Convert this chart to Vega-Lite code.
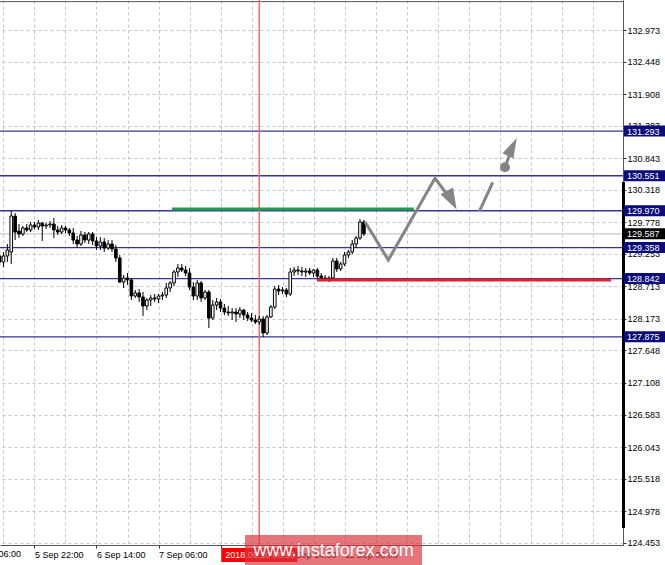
{
  "$schema": "https://vega.github.io/schema/vega-lite/v6.json",
  "width": 623,
  "height": 545,
  "padding": {"left": 0, "top": 0, "right": 42, "bottom": 20},
  "autosize": {"type": "none"},
  "background": "white",
  "config": {"view": {"stroke": null}, "font": "Liberation Sans", "scale": {"continuousPadding": 0}},
  "datasets": {
    "bars": [
      {"t":-9,"o":129.218,"h":129.317,"l":129.051,"c":129.118},
      {"t":-8,"o":129.118,"h":129.284,"l":129.035,"c":129.218},
      {"t":-7,"o":129.218,"h":129.417,"l":129.118,"c":129.317},
      {"t":-6,"o":129.284,"h":129.965,"l":129.085,"c":129.882},
      {"t":-5,"o":129.882,"h":129.932,"l":129.483,"c":129.616},
      {"t":-4,"o":129.633,"h":129.749,"l":129.517,"c":129.583},
      {"t":-3,"o":129.583,"h":129.716,"l":129.550,"c":129.683},
      {"t":-2,"o":129.683,"h":129.749,"l":129.616,"c":129.650},
      {"t":-1,"o":129.650,"h":129.783,"l":129.616,"c":129.733},
      {"t":0,"o":129.733,"h":129.783,"l":129.666,"c":129.699},
      {"t":1,"o":129.699,"h":129.816,"l":129.650,"c":129.766},
      {"t":2,"o":129.766,"h":129.783,"l":129.467,"c":129.716},
      {"t":3,"o":129.716,"h":129.766,"l":129.666,"c":129.733},
      {"t":4,"o":129.733,"h":129.799,"l":129.683,"c":129.749},
      {"t":5,"o":129.749,"h":129.849,"l":129.517,"c":129.650},
      {"t":6,"o":129.650,"h":129.716,"l":129.567,"c":129.616},
      {"t":7,"o":129.616,"h":129.733,"l":129.583,"c":129.683},
      {"t":8,"o":129.683,"h":129.716,"l":129.600,"c":129.650},
      {"t":9,"o":129.650,"h":129.683,"l":129.550,"c":129.600},
      {"t":10,"o":129.600,"h":129.683,"l":129.417,"c":129.483},
      {"t":11,"o":129.483,"h":129.550,"l":129.351,"c":129.417},
      {"t":12,"o":129.417,"h":129.633,"l":129.384,"c":129.567},
      {"t":13,"o":129.567,"h":129.616,"l":129.434,"c":129.483},
      {"t":14,"o":129.483,"h":129.616,"l":129.417,"c":129.583},
      {"t":15,"o":129.583,"h":129.616,"l":129.400,"c":129.467},
      {"t":16,"o":129.467,"h":129.533,"l":129.317,"c":129.384},
      {"t":17,"o":129.384,"h":129.533,"l":129.317,"c":129.450},
      {"t":18,"o":129.450,"h":129.517,"l":129.284,"c":129.351},
      {"t":19,"o":129.351,"h":129.483,"l":129.317,"c":129.417},
      {"t":20,"o":129.417,"h":129.483,"l":129.284,"c":129.334},
      {"t":21,"o":129.334,"h":129.400,"l":129.118,"c":129.184},
      {"t":22,"o":129.184,"h":129.234,"l":128.769,"c":128.785},
      {"t":23,"o":128.785,"h":128.902,"l":128.686,"c":128.852},
      {"t":24,"o":128.852,"h":128.935,"l":128.736,"c":128.819},
      {"t":25,"o":128.819,"h":128.852,"l":128.486,"c":128.553},
      {"t":26,"o":128.553,"h":128.653,"l":128.520,"c":128.603},
      {"t":27,"o":128.603,"h":128.669,"l":128.453,"c":128.536},
      {"t":28,"o":128.536,"h":128.619,"l":128.221,"c":128.387},
      {"t":29,"o":128.387,"h":128.520,"l":128.320,"c":128.486},
      {"t":30,"o":128.486,"h":128.569,"l":128.387,"c":128.520},
      {"t":31,"o":128.520,"h":128.586,"l":128.453,"c":128.503},
      {"t":32,"o":128.503,"h":128.586,"l":128.437,"c":128.553},
      {"t":33,"o":128.553,"h":128.619,"l":128.486,"c":128.569},
      {"t":34,"o":128.569,"h":128.769,"l":128.520,"c":128.686},
      {"t":35,"o":128.686,"h":128.802,"l":128.619,"c":128.769},
      {"t":36,"o":128.769,"h":128.985,"l":128.719,"c":128.952},
      {"t":37,"o":128.952,"h":129.085,"l":128.869,"c":129.018},
      {"t":38,"o":129.018,"h":129.085,"l":128.952,"c":128.985},
      {"t":39,"o":128.985,"h":129.051,"l":128.885,"c":128.935},
      {"t":40,"o":128.935,"h":129.018,"l":128.653,"c":128.702},
      {"t":41,"o":128.702,"h":128.785,"l":128.486,"c":128.553},
      {"t":42,"o":128.553,"h":128.819,"l":128.486,"c":128.769},
      {"t":43,"o":128.769,"h":128.802,"l":128.453,"c":128.520},
      {"t":44,"o":128.520,"h":128.653,"l":128.486,"c":128.619},
      {"t":45,"o":128.619,"h":128.653,"l":128.021,"c":128.187},
      {"t":46,"o":128.187,"h":128.486,"l":128.154,"c":128.403},
      {"t":47,"o":128.403,"h":128.520,"l":128.320,"c":128.453},
      {"t":48,"o":128.453,"h":128.503,"l":128.287,"c":128.353},
      {"t":49,"o":128.353,"h":128.420,"l":128.237,"c":128.287},
      {"t":50,"o":128.287,"h":128.387,"l":128.221,"c":128.270},
      {"t":51,"o":128.270,"h":128.353,"l":128.154,"c":128.287},
      {"t":52,"o":128.287,"h":128.353,"l":128.121,"c":128.254},
      {"t":53,"o":128.254,"h":128.370,"l":128.187,"c":128.320},
      {"t":54,"o":128.320,"h":128.337,"l":128.154,"c":128.237},
      {"t":55,"o":128.237,"h":128.287,"l":128.137,"c":128.187},
      {"t":56,"o":128.187,"h":128.270,"l":128.121,"c":128.154},
      {"t":57,"o":128.154,"h":128.237,"l":128.088,"c":128.121},
      {"t":58,"o":128.121,"h":128.221,"l":128.071,"c":128.171},
      {"t":59,"o":128.171,"h":128.221,"l":127.872,"c":127.938},
      {"t":60,"o":127.938,"h":128.237,"l":127.905,"c":128.204},
      {"t":61,"o":128.204,"h":128.403,"l":128.187,"c":128.370},
      {"t":62,"o":128.370,"h":128.719,"l":128.337,"c":128.669},
      {"t":63,"o":128.669,"h":128.736,"l":128.569,"c":128.636},
      {"t":64,"o":128.636,"h":128.702,"l":128.586,"c":128.653},
      {"t":65,"o":128.653,"h":128.686,"l":128.536,"c":128.586},
      {"t":66,"o":128.586,"h":129.018,"l":128.553,"c":128.952},
      {"t":67,"o":128.952,"h":129.035,"l":128.885,"c":128.985},
      {"t":68,"o":128.985,"h":129.051,"l":128.902,"c":128.968},
      {"t":69,"o":128.968,"h":129.035,"l":128.885,"c":128.952},
      {"t":70,"o":128.952,"h":129.018,"l":128.869,"c":128.968},
      {"t":71,"o":128.968,"h":129.018,"l":128.902,"c":128.935},
      {"t":72,"o":128.935,"h":129.002,"l":128.869,"c":128.985},
      {"t":73,"o":128.985,"h":129.018,"l":128.819,"c":128.885},
      {"t":74,"o":128.885,"h":128.935,"l":128.802,"c":128.852},
      {"t":75,"o":128.852,"h":128.902,"l":128.802,"c":128.835},
      {"t":76,"o":128.835,"h":128.885,"l":128.785,"c":128.852},
      {"t":77,"o":128.852,"h":129.184,"l":128.819,"c":129.135},
      {"t":78,"o":129.135,"h":129.184,"l":128.952,"c":129.002},
      {"t":79,"o":129.002,"h":129.118,"l":128.968,"c":129.085},
      {"t":80,"o":129.085,"h":129.284,"l":129.051,"c":129.234},
      {"t":81,"o":129.234,"h":129.317,"l":129.184,"c":129.284},
      {"t":82,"o":129.284,"h":129.483,"l":129.251,"c":129.417},
      {"t":83,"o":129.417,"h":129.550,"l":129.351,"c":129.517},
      {"t":84,"o":129.517,"h":129.832,"l":129.483,"c":129.783},
      {"t":85,"o":129.783,"h":129.816,"l":129.550,"c":129.587}
    ],
    "levels": [
      {"p":131.293,"label":"131.293"},
      {"p":130.551,"label":"130.551"},
      {"p":129.970,"label":"129.970"},
      {"p":129.358,"label":"129.358"},
      {"p":128.842,"label":"128.842"},
      {"p":127.875,"label":"127.875"}
    ],
    "price": [{"p":129.587,"label":"129.587"}],
    "vline": [{"t":58,"label":"2018.09.10 08:00"}],
    "firstlabel": [{"t":-16,"label":"5 Sep 06:00"}],
    "green": [{"t1":35.5,"t2":97.9,"p":130.0}],
    "red": [{"t1":72.9,"t2":148.8,"p":128.819}],
    "path": [
      {"seg":"a","k":1,"t":85.29,"p":129.788},
      {"seg":"a","k":2,"t":91.3,"p":129.151},
      {"seg":"a","k":3,"t":103.35,"p":130.509},
      {"seg":"a","k":4,"t":107.3,"p":130.17},
      {"seg":"b","k":1,"t":114.77,"p":129.954},
      {"seg":"b","k":2,"t":118.25,"p":130.443},
      {"seg":"c","k":1,"t":121.42,"p":130.692},
      {"seg":"c","k":2,"t":123.1,"p":130.99}
    ],
    "head1": [{"t":107.66,"p":130.145}],
    "head2": [{"t":123.32,"p":131.029}],
    "dot": [{"t":121.42,"p":130.692}],
    "mark": [{"text":"www.instaforex.com"}]
  },
  "layer": [
    {
      "data": {"name": "bars"},
      "mark": {"type": "rule", "color": "black", "strokeWidth": 1, "opacity": 0},
      "encoding": {
        "x": {
          "field": "t", "type": "quantitative",
          "scale": {"domain": [-8.903, 151.87], "nice": false, "zero": false, "padding": 0},
          "axis": {
            "orient": "bottom",
            "values": [-8,0,8,16,24,32,40,48,56,64,72,80,88,96,104,112,120,128,136,144],
            "tickCount": 200,
            "labelExpr": "datum.value == 0 ? '5 Sep 22:00' : datum.value == 16 ? '6 Sep 14:00' : datum.value == 32 ? '7 Sep 06:00' : datum.value == 48 ? '7 Sep 22:00' : datum.value == 64 ? '10 Sep 14:00' : datum.value == 80 ? '11 Sep 06:00' : ''",
            "title": null,
            "grid": true, "gridColor": "#c4c4c4", "gridDash": [3, 3], "gridWidth": 1,
            "labelAlign": "left", "labelPadding": 2, "tickSize": 3,
            "tickColor": {"condition": {"test": "datum.value % 16 == 0 && datum.value <= 80", "value": "#333"}, "value": "transparent"},
            "labelFontSize": 9, "labelColor": "#000", "labelFont": "Liberation Sans",
            "labelOverlap": false, "labelBound": false, "labelFlush": false,
            "domainColor": "#555"
          }
        },
        "y": {
          "field": "l", "type": "quantitative",
          "scale": {"domain": [124.415, 133.472], "nice": false, "zero": false, "padding": 0},
          "axis": {
            "orient": "right",
            "values": [132.973,132.448,131.908,131.383,130.843,130.318,129.778,129.253,128.713,128.173,127.648,127.108,126.583,126.043,125.518,124.978,124.453],
            "tickCount": 200,
            "format": ".3f",
            "title": null,
            "grid": true, "gridColor": "#c4c4c4", "gridDash": [3, 3], "gridWidth": 1,
            "tickSize": 3, "tickColor": "#333", "labelPadding": 1,
            "labelFontSize": 9, "labelColor": "#000", "labelFont": "Liberation Sans",
            "labelOverlap": false, "labelBound": false, "labelFlush": false,
            "domainColor": "#555"
          }
        },
        "y2": {"field": "h"}
      }
    },
    {
      "data": {"name": "levels"},
      "mark": {"type": "rule", "color": "#34349c", "strokeWidth": 1.3},
      "encoding": {
        "y": {"field": "p", "type": "quantitative", "scale": {"domain": [124.415, 133.472], "nice": false, "zero": false, "padding": 0}}
      }
    },
    {
      "data": {"name": "price"},
      "mark": {"type": "rule", "color": "#c8c8c8", "strokeWidth": 1.2},
      "encoding": {
        "y": {"field": "p", "type": "quantitative", "scale": {"domain": [124.415, 133.472], "nice": false, "zero": false, "padding": 0}}
      }
    },
    {
      "data": {"name": "price"},
      "mark": {"type": "rule", "color": "#555", "strokeWidth": 1},
      "encoding": {
        "y": {"datum": 133.445, "type": "quantitative", "scale": {"domain": [124.415, 133.472], "nice": false, "zero": false, "padding": 0}}
      }
    },
    {
      "data": {"name": "vline"},
      "mark": {"type": "rule", "color": "#f36b6b", "strokeWidth": 1.5},
      "encoding": {
        "x": {"field": "t", "type": "quantitative", "scale": {"domain": [-8.903, 151.87], "nice": false, "zero": false, "padding": 0}}
      }
    },
    {
      "data": {"name": "bars"},
      "mark": {"type": "rule", "color": "black", "strokeWidth": 1},
      "encoding": {
        "x": {"field": "t", "type": "quantitative", "scale": {"domain": [-8.903, 151.87], "nice": false, "zero": false, "padding": 0}},
        "y": {"field": "l", "type": "quantitative", "scale": {"domain": [124.415, 133.472], "nice": false, "zero": false, "padding": 0}},
        "y2": {"field": "h"}
      }
    },
    {
      "data": {"name": "bars"},
      "mark": {"type": "bar", "size": 2.6, "stroke": "black", "strokeWidth": 1},
      "encoding": {
        "x": {"field": "t", "type": "quantitative", "scale": {"domain": [-8.903, 151.87], "nice": false, "zero": false, "padding": 0}},
        "y": {"field": "o", "type": "quantitative", "scale": {"domain": [124.415, 133.472], "nice": false, "zero": false, "padding": 0}},
        "y2": {"field": "c"},
        "fill": {"condition": {"test": "datum.c < datum.o", "value": "black"}, "value": "white"}
      }
    },
    {
      "data": {"name": "green"},
      "mark": {"type": "rule", "color": "#1f9e48", "strokeWidth": 3},
      "encoding": {
        "x": {"field": "t1", "type": "quantitative", "scale": {"domain": [-8.903, 151.87], "nice": false, "zero": false, "padding": 0}},
        "x2": {"field": "t2"},
        "y": {"field": "p", "type": "quantitative", "scale": {"domain": [124.415, 133.472], "nice": false, "zero": false, "padding": 0}}
      }
    },
    {
      "data": {"name": "red"},
      "mark": {"type": "rule", "color": "#e41f2f", "strokeWidth": 3},
      "encoding": {
        "x": {"field": "t1", "type": "quantitative", "scale": {"domain": [-8.903, 151.87], "nice": false, "zero": false, "padding": 0}},
        "x2": {"field": "t2"},
        "y": {"field": "p", "type": "quantitative", "scale": {"domain": [124.415, 133.472], "nice": false, "zero": false, "padding": 0}}
      }
    },
    {
      "data": {"name": "path"},
      "mark": {"type": "line", "color": "#858585", "strokeWidth": 3, "strokeJoin": "miter"},
      "encoding": {
        "x": {"field": "t", "type": "quantitative", "scale": {"domain": [-8.903, 151.87], "nice": false, "zero": false, "padding": 0}},
        "y": {"field": "p", "type": "quantitative", "scale": {"domain": [124.415, 133.472], "nice": false, "zero": false, "padding": 0}},
        "detail": {"field": "seg"},
        "order": {"field": "k"}
      }
    },
    {
      "data": {"name": "head1"},
      "mark": {"type": "point", "filled": true, "color": "#858585", "opacity": 1, "size": 440, "angle": 152, "shape": "M0,-1L0.68,1L-0.68,1Z"},
      "encoding": {
        "x": {"field": "t", "type": "quantitative", "scale": {"domain": [-8.903, 151.87], "nice": false, "zero": false, "padding": 0}},
        "y": {"field": "p", "type": "quantitative", "scale": {"domain": [124.415, 133.472], "nice": false, "zero": false, "padding": 0}}
      }
    },
    {
      "data": {"name": "head2"},
      "mark": {"type": "point", "filled": true, "color": "#858585", "opacity": 1, "size": 400, "angle": 26, "shape": "M0,-1L0.6,1L-0.6,1Z"},
      "encoding": {
        "x": {"field": "t", "type": "quantitative", "scale": {"domain": [-8.903, 151.87], "nice": false, "zero": false, "padding": 0}},
        "y": {"field": "p", "type": "quantitative", "scale": {"domain": [124.415, 133.472], "nice": false, "zero": false, "padding": 0}}
      }
    },
    {
      "data": {"name": "dot"},
      "mark": {"type": "point", "filled": true, "color": "#858585", "opacity": 1, "size": 100, "shape": "circle"},
      "encoding": {
        "x": {"field": "t", "type": "quantitative", "scale": {"domain": [-8.903, 151.87], "nice": false, "zero": false, "padding": 0}},
        "y": {"field": "p", "type": "quantitative", "scale": {"domain": [124.415, 133.472], "nice": false, "zero": false, "padding": 0}}
      }
    },
    {
      "data": {"name": "price"},
      "mark": {"type": "rule", "color": "black", "strokeWidth": 3},
      "encoding": {
        "x": {"datum": 152.0, "type": "quantitative", "scale": {"domain": [-8.903, 151.87], "nice": false, "zero": false, "padding": 0}},
        "y": {"datum": 130.448, "type": "quantitative", "scale": {"domain": [124.415, 133.472], "nice": false, "zero": false, "padding": 0}},
        "y2": {"datum": 124.698}
      }
    },
    {
      "data": {"name": "levels"},
      "mark": {"type": "point", "filled": true, "color": "#0b0b7a", "opacity": 1, "size": 1764, "strokeWidth": 0, "shape": "M-1,-0.262L1,-0.262L1,0.262L-1,0.262Z"},
      "encoding": {
        "x": {"datum": 157.55, "type": "quantitative", "scale": {"domain": [-8.903, 151.87], "nice": false, "zero": false, "padding": 0}},
        "y": {"field": "p", "type": "quantitative", "scale": {"domain": [124.415, 133.472], "nice": false, "zero": false, "padding": 0}}
      }
    },
    {
      "data": {"name": "price"},
      "mark": {"type": "point", "filled": true, "color": "#000000", "opacity": 1, "size": 1764, "strokeWidth": 0, "shape": "M-1,-0.262L1,-0.262L1,0.262L-1,0.262Z"},
      "encoding": {
        "x": {"datum": 157.55, "type": "quantitative", "scale": {"domain": [-8.903, 151.87], "nice": false, "zero": false, "padding": 0}},
        "y": {"field": "p", "type": "quantitative", "scale": {"domain": [124.415, 133.472], "nice": false, "zero": false, "padding": 0}}
      }
    },
    {
      "data": {"name": "levels"},
      "mark": {"type": "text", "color": "white", "fontSize": 9, "font": "Liberation Sans", "align": "left", "baseline": "middle", "dy": 0.5},
      "encoding": {
        "x": {"datum": 152.9, "type": "quantitative", "scale": {"domain": [-8.903, 151.87], "nice": false, "zero": false, "padding": 0}},
        "y": {"field": "p", "type": "quantitative", "scale": {"domain": [124.415, 133.472], "nice": false, "zero": false, "padding": 0}},
        "text": {"field": "label"}
      }
    },
    {
      "data": {"name": "price"},
      "mark": {"type": "text", "color": "white", "fontSize": 9, "font": "Liberation Sans", "align": "left", "baseline": "middle", "dy": 0.5},
      "encoding": {
        "x": {"datum": 152.9, "type": "quantitative", "scale": {"domain": [-8.903, 151.87], "nice": false, "zero": false, "padding": 0}},
        "y": {"field": "p", "type": "quantitative", "scale": {"domain": [124.415, 133.472], "nice": false, "zero": false, "padding": 0}},
        "text": {"field": "label"}
      }
    },
    {
      "data": {"name": "firstlabel"},
      "mark": {"type": "text", "color": "black", "fontSize": 9, "font": "Liberation Sans", "align": "left", "baseline": "top"},
      "encoding": {
        "x": {"field": "t", "type": "quantitative", "scale": {"domain": [-8.903, 151.87], "nice": false, "zero": false, "padding": 0}},
        "y": {"datum": 124.332, "type": "quantitative", "scale": {"domain": [124.415, 133.472], "nice": false, "zero": false, "padding": 0}},
        "text": {"field": "label"}
      }
    },
    {
      "data": {"name": "vline"},
      "mark": {"type": "point", "filled": true, "color": "#ff0000", "opacity": 1, "size": 5776, "strokeWidth": 0, "shape": "M-1,-0.184L1,-0.184L1,0.184L-1,0.184Z"},
      "encoding": {
        "x": {"field": "t", "type": "quantitative", "scale": {"domain": [-8.903, 151.87], "nice": false, "zero": false, "padding": 0}},
        "y": {"datum": 124.249, "type": "quantitative", "scale": {"domain": [124.415, 133.472], "nice": false, "zero": false, "padding": 0}}
      }
    },
    {
      "data": {"name": "vline"},
      "mark": {"type": "text", "color": "white", "fontSize": 9, "font": "Liberation Sans", "align": "left", "baseline": "middle", "dx": -34},
      "encoding": {
        "x": {"field": "t", "type": "quantitative", "scale": {"domain": [-8.903, 151.87], "nice": false, "zero": false, "padding": 0}},
        "y": {"datum": 124.249, "type": "quantitative", "scale": {"domain": [124.415, 133.472], "nice": false, "zero": false, "padding": 0}},
        "text": {"field": "label"}
      }
    },
    {
      "data": {"name": "mark"},
      "mark": {"type": "rect", "color": "#d9343c", "opacity": 0.68},
      "encoding": {
        "x": {"datum": 54.32, "type": "quantitative", "scale": {"domain": [-8.903, 151.87], "nice": false, "zero": false, "padding": 0}},
        "x2": {"datum": 100.0},
        "y": {"datum": 124.581, "type": "quantitative", "scale": {"domain": [124.415, 133.472], "nice": false, "zero": false, "padding": 0}},
        "y2": {"datum": 124.083}
      }
    },
    {
      "data": {"name": "mark"},
      "mark": {"type": "text", "color": "white", "fontSize": 18, "font": "Liberation Sans", "align": "center", "baseline": "middle"},
      "encoding": {
        "x": {"datum": 77.2, "type": "quantitative", "scale": {"domain": [-8.903, 151.87], "nice": false, "zero": false, "padding": 0}},
        "y": {"datum": 124.316, "type": "quantitative", "scale": {"domain": [124.415, 133.472], "nice": false, "zero": false, "padding": 0}},
        "text": {"field": "text"}
      }
    }
  ]
}
